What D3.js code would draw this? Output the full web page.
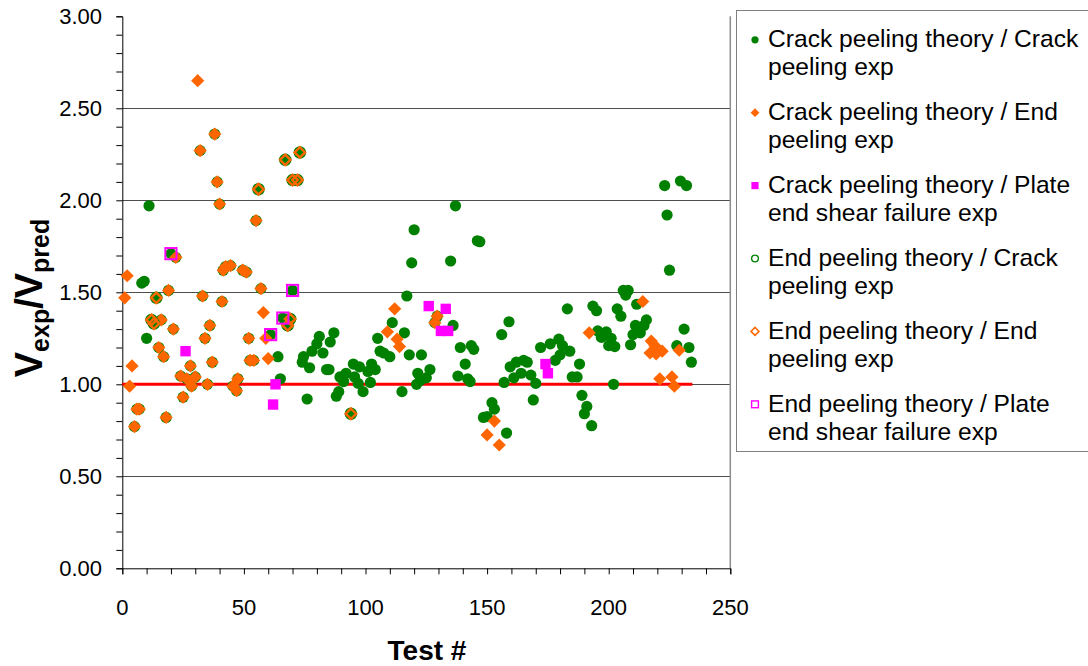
<!DOCTYPE html>
<html>
<head>
<meta charset="utf-8">
<script src="https://cdn.jsdelivr.net/npm/d3@7"></script>
<style>
  body { margin: 0; background: #fff; }
  svg text { font-family: "Liberation Sans", Arial, Helvetica, sans-serif; fill: #000; }
</style>
</head>
<body>
<svg id="chart" width="1088" height="666"></svg>
<script>
// Vexp/Vpred per test, one array per theory / experiment pairing: [test #, ratio]
const crackTheoryCrackExp = [
  [5,0.77],[6,0.865],[7,0.865],[8,1.55],[9,1.56],[10,1.25],[11,1.97],[12,1.35],[13,1.33],[14,1.47],
  [15,1.20],[16,1.35],[17,1.15],[18,0.82],[19,1.51],[20,1.71],[21,1.30],[22,1.69],[24,1.045],[25,0.93],
  [26.5,1.03],[28,1.10],[28.5,0.99],[30,1.04],[32,2.27],[33,1.48],[34,1.25],[35,1.0],[36,1.32],[37,1.12],
  [38,2.36],[39,2.10],[40,1.98],[41,1.45],[41.5,1.62],[42.5,1.64],[44.5,1.645],[45.5,0.99],[47,0.965],[47.5,1.03],
  [49.5,1.62],[51,1.61],[52,1.25],[52.5,1.13],[54,1.13],[55,1.89],[56,2.06],[57,1.52],[61,1.27],[64,1.15],
  [65,1.03],[66,1.36],[67,2.22],[68,1.32],[69,1.355],[70,2.11],[70,1.51],[72,2.11],[73,2.26],[74,1.12],
  [74.5,1.15],[76,0.92],[77,1.09],[78,1.18],[80,1.22],[81,1.26],[82.5,1.17],[84,1.08],[85,1.08],[85.5,1.23],
  [87,1.28],[88,0.935],[89,0.96],[89.5,1.04],[91,1.015],[92,1.06],[94,0.84],[95,1.11],[95.5,1.04],[97,1.005],
  [97.5,1.095],[99,0.96],[101,1.07],[102,1.01],[102.5,1.11],[104,1.08],[105,1.25],[106,1.18],[107.5,1.17],[110,1.15],
  [111,1.335],[115,0.96],[116,1.28],[117,1.48],[118,1.16],[119,1.66],[120,1.84],[121,1.0],[121.5,1.06],[122.5,1.02],
  [123,1.16],[125,1.035],[126.5,1.08],[128.5,1.335],[129.5,1.37],[135,1.67],[136,1.32],[137,1.97],[138,1.045],[139,1.20],
  [141,1.11],[142,1.03],[143,1.015],[143.5,1.21],[144.5,1.19],[146,1.78],[147,1.775],[148.5,0.82],[150,0.825],[152,0.90],
  [153,0.865],[156,1.27],[157,1.01],[158,0.735],[159,1.34],[159.5,1.095],[161,1.035],[162,1.12],[164,1.06],[165,1.13],
  [166.5,1.12],[168,1.05],[169,0.915],[170,1.005],[172,1.20],[176,1.22],[178,1.13],[179.5,1.245],[180,1.16],[181,1.21],
  [183,1.41],[184,1.18],[185,1.04],[187,1.04],[188,1.11],[189,0.94],[190,0.84],[191,0.88],[193,0.775],[193.5,1.425],
  [195,1.40],[195.5,1.29],[197,1.255],[199,1.285],[200,1.21],[201,1.25],[202,1.0],[202.5,1.205],[203.5,1.41],[205,1.37],
  [206,1.51],[207,1.485],[208,1.51],[209,1.215],[210,1.27],[211,1.32],[211.5,1.435],[213,1.28],[214.5,1.32],[215.5,1.35],
  [223,2.08],[224,1.92],[225,1.62],[228,1.21],[229.5,2.105],[231,1.30],[232,2.08],[233,1.20],[234,1.12]
];
const crackTheoryEndExp = [
  [1,1.47],[2,1.59],[3,0.99],[4,1.10],[5,0.77],[6,0.865],[7,0.865],[15,1.20],[16,1.35],[17,1.15],
  [18,0.82],[19,1.51],[21,1.30],[22,1.69],[24,1.045],[25,0.93],[26.5,1.03],[28,1.10],[28.5,0.99],[30,1.04],
  [31,2.65],[32,2.27],[33,1.48],[34,1.25],[35,1.0],[36,1.32],[37,1.12],[38,2.36],[39,2.10],[40,1.98],
  [41,1.45],[41.5,1.62],[42.5,1.64],[44.5,1.645],[45.5,0.99],[47,0.965],[47.5,1.03],[49.5,1.62],[51,1.61],[52,1.25],
  [52.5,1.13],[54,1.13],[55,1.89],[57,1.52],[58,1.39],[59,1.25],[60,1.14],[109,1.285],[112,1.41],[113,1.245],
  [114,1.205],[128.5,1.335],[129.5,1.37],[150,0.725],[153,0.80],[155,0.67],[192,1.28],[214,1.45],[217,1.17],[217.5,1.235],
  [219,1.21],[219.5,1.165],[221,1.03],[222,1.18],[226,1.04],[227,0.99],[229,1.185]
];
const crackTheoryPlateExp = [
  [26,1.18],[62,0.89],[63,1.00],[126,1.425],[131,1.29],[133,1.41],[134,1.29],[174,1.11],[175,1.06]
];
const endTheoryCrackExp = [
  [12,1.35],[13,1.33],[14,1.47],[56,2.06],[67,2.22],[68,1.32],[69,1.355],[70,2.11],[72,2.11],[73,2.26],[94,0.84]
];
const endTheoryEndExp = [
  [12,1.35],[13,1.33],[14,1.47],[56,2.06],[67,2.22],[68,1.32],[69,1.355],[70,2.11],[72,2.11],[73,2.26],[94,0.84]
];
const endTheoryPlateExp = [
  [20,1.71],[61,1.27],[66,1.36],[70,1.51]
];

const seriesNames = [
  ["Crack peeling theory / Crack", "peeling exp"],
  ["Crack peeling theory / End", "peeling exp"],
  ["Crack peeling theory / Plate", "end shear failure exp"],
  ["End peeling theory / Crack", "peeling exp"],
  ["End peeling theory / End", "peeling exp"],
  ["End peeling theory / Plate", "end shear failure exp"]
];
const xTickValues = [0, 50, 100, 150, 200, 250];
const yTickValues = [0, 0.5, 1, 1.5, 2, 2.5, 3];
const gridValues = [0.5, 1, 1.5, 2, 2.5];
const unityLine = [[0, 1], [234.4, 1]];

const GREEN = "#008000", ORANGE = "#ff6600", MAGENTA = "#ff00ff";

const svg = d3.select("#chart");
const x = d3.scaleLinear().domain([0, 250]).range([122.3, 730.3]);
const y = d3.scaleLinear().domain([0, 3]).range([568.3, 16.3]);

// horizontal gridlines
svg.append("g").selectAll("line").data(gridValues).join("line")
  .attr("x1", x(0)).attr("x2", x(250))
  .attr("y1", d => Math.round(y(d)) + 0.5).attr("y2", d => Math.round(y(d)) + 0.5)
  .attr("stroke", "#4d4d4d").attr("stroke-width", 1);

// right edge of the plot area
svg.append("line")
  .attr("x1", x(250)).attr("x2", x(250)).attr("y1", y(3)).attr("y2", y(0))
  .attr("stroke", "#8c8c8c").attr("stroke-width", 1.5);

// axes
const yAxis = d3.axisLeft(y).tickValues(d3.range(0, 3.0001, 0.1)).tickSize(6).tickFormat("");
svg.append("g").attr("transform", `translate(${x(0)},0)`).call(yAxis)
  .call(g => g.selectAll("line,path").attr("stroke", "#000"));
svg.append("g").selectAll("text").data(yTickValues).join("text")
  .attr("x", 102).attr("y", d => y(d)).attr("dy", "0.36em")
  .attr("text-anchor", "end").attr("font-size", 22)
  .text(d3.format(".2f"));

const xAxis = d3.axisBottom(x).tickValues(d3.range(0, 251, 10)).tickSize(6).tickFormat("");
svg.append("g").attr("transform", `translate(0,${y(0)})`).call(xAxis)
  .call(g => g.selectAll("line,path").attr("stroke", "#000"));
svg.append("g").selectAll("text").data(xTickValues).join("text")
  .attr("x", d => x(d)).attr("y", 615)
  .attr("text-anchor", "middle").attr("font-size", 22)
  .text(d => d);

// axis titles
svg.append("text").attr("x", 427).attr("y", 660).attr("text-anchor", "middle")
  .attr("font-size", 28).attr("font-weight", "bold").text("Test #");

const yt = svg.append("text").attr("transform", "translate(42,298) rotate(-90)")
  .attr("text-anchor", "middle").attr("font-weight", "bold").attr("font-size", 38);
yt.append("tspan").text("V");
yt.append("tspan").attr("font-size", 25).attr("dy", 7).text("exp");
yt.append("tspan").attr("dy", -7).text("/V");
yt.append("tspan").attr("font-size", 25).attr("dy", 7).text("pred");

// red unity line
svg.append("path").datum(unityLine)
  .attr("d", d3.line().x(d => x(d[0])).y(d => y(d[1])))
  .attr("stroke", "#ff0000").attr("stroke-width", 3).attr("fill", "none");

// marker painters
const marker = {
  circleFill: (g, r) => g.append("circle").attr("r", r).attr("fill", GREEN),
  diamondFill: (g, r) => g.append("path").attr("d", `M0,${-r}L${r},0L0,${r}L${-r},0Z`).attr("fill", ORANGE),
  squareFill: (g, r) => g.append("rect").attr("x", -r).attr("y", -r).attr("width", 2 * r).attr("height", 2 * r).attr("fill", MAGENTA),
  circleOpen: (g, r, w) => g.append("circle").attr("r", r).attr("fill", "none").attr("stroke", GREEN).attr("stroke-width", w),
  diamondOpen: (g, r, w) => g.append("path").attr("d", `M0,${-r}L${r},0L0,${r}L${-r},0Z`).attr("fill", "none").attr("stroke", ORANGE).attr("stroke-width", w),
  squareOpen: (g, r, w) => g.append("rect").attr("x", -r).attr("y", -r).attr("width", 2 * r).attr("height", 2 * r).attr("fill", "none").attr("stroke", MAGENTA).attr("stroke-width", w)
};

const series = [
  { data: crackTheoryCrackExp, kind: "circleFill", r: 5.6, lr: 3.6 },
  { data: crackTheoryEndExp,   kind: "diamondFill", r: 6.6, lr: 4.4 },
  { data: crackTheoryPlateExp, kind: "squareFill", r: 5.2, lr: 3.6 },
  { data: endTheoryCrackExp,   kind: "circleOpen", r: 5.6, lr: 3.4, w: 1.3, lw: 1.3 },
  { data: endTheoryEndExp,     kind: "diamondOpen", r: 5.2, lr: 4, w: 2.4, lw: 1.5 },
  { data: endTheoryPlateExp,   kind: "squareOpen", r: 5.6, lr: 3.4, w: 2, lw: 1.4 }
];

const plot = svg.append("g");
series.forEach(s => {
  plot.append("g").selectAll("g").data(s.data).join("g")
    .attr("transform", d => `translate(${x(d[0])},${y(d[1])})`)
    .each(function () { marker[s.kind](d3.select(this), s.r, s.w); });
});

// legend
const legend = svg.append("g");
legend.append("rect").attr("x", 736.5).attr("y", 10.5).attr("width", 360).attr("height", 441)
  .attr("fill", "#fff").attr("stroke", "#7f7f7f").attr("stroke-width", 1);
series.forEach((s, i) => {
  const top = 47.3 + i * 72.9;
  const g = legend.append("g").attr("transform", `translate(755,${top - 7.5})`);
  marker[s.kind](g, s.lr, s.lw);
  legend.append("text").attr("x", 768).attr("y", top).attr("font-size", 24.6).text(seriesNames[i][0]);
  legend.append("text").attr("x", 768).attr("y", top + 28).attr("font-size", 24.6).text(seriesNames[i][1]);
});
</script>
</body>
</html>
